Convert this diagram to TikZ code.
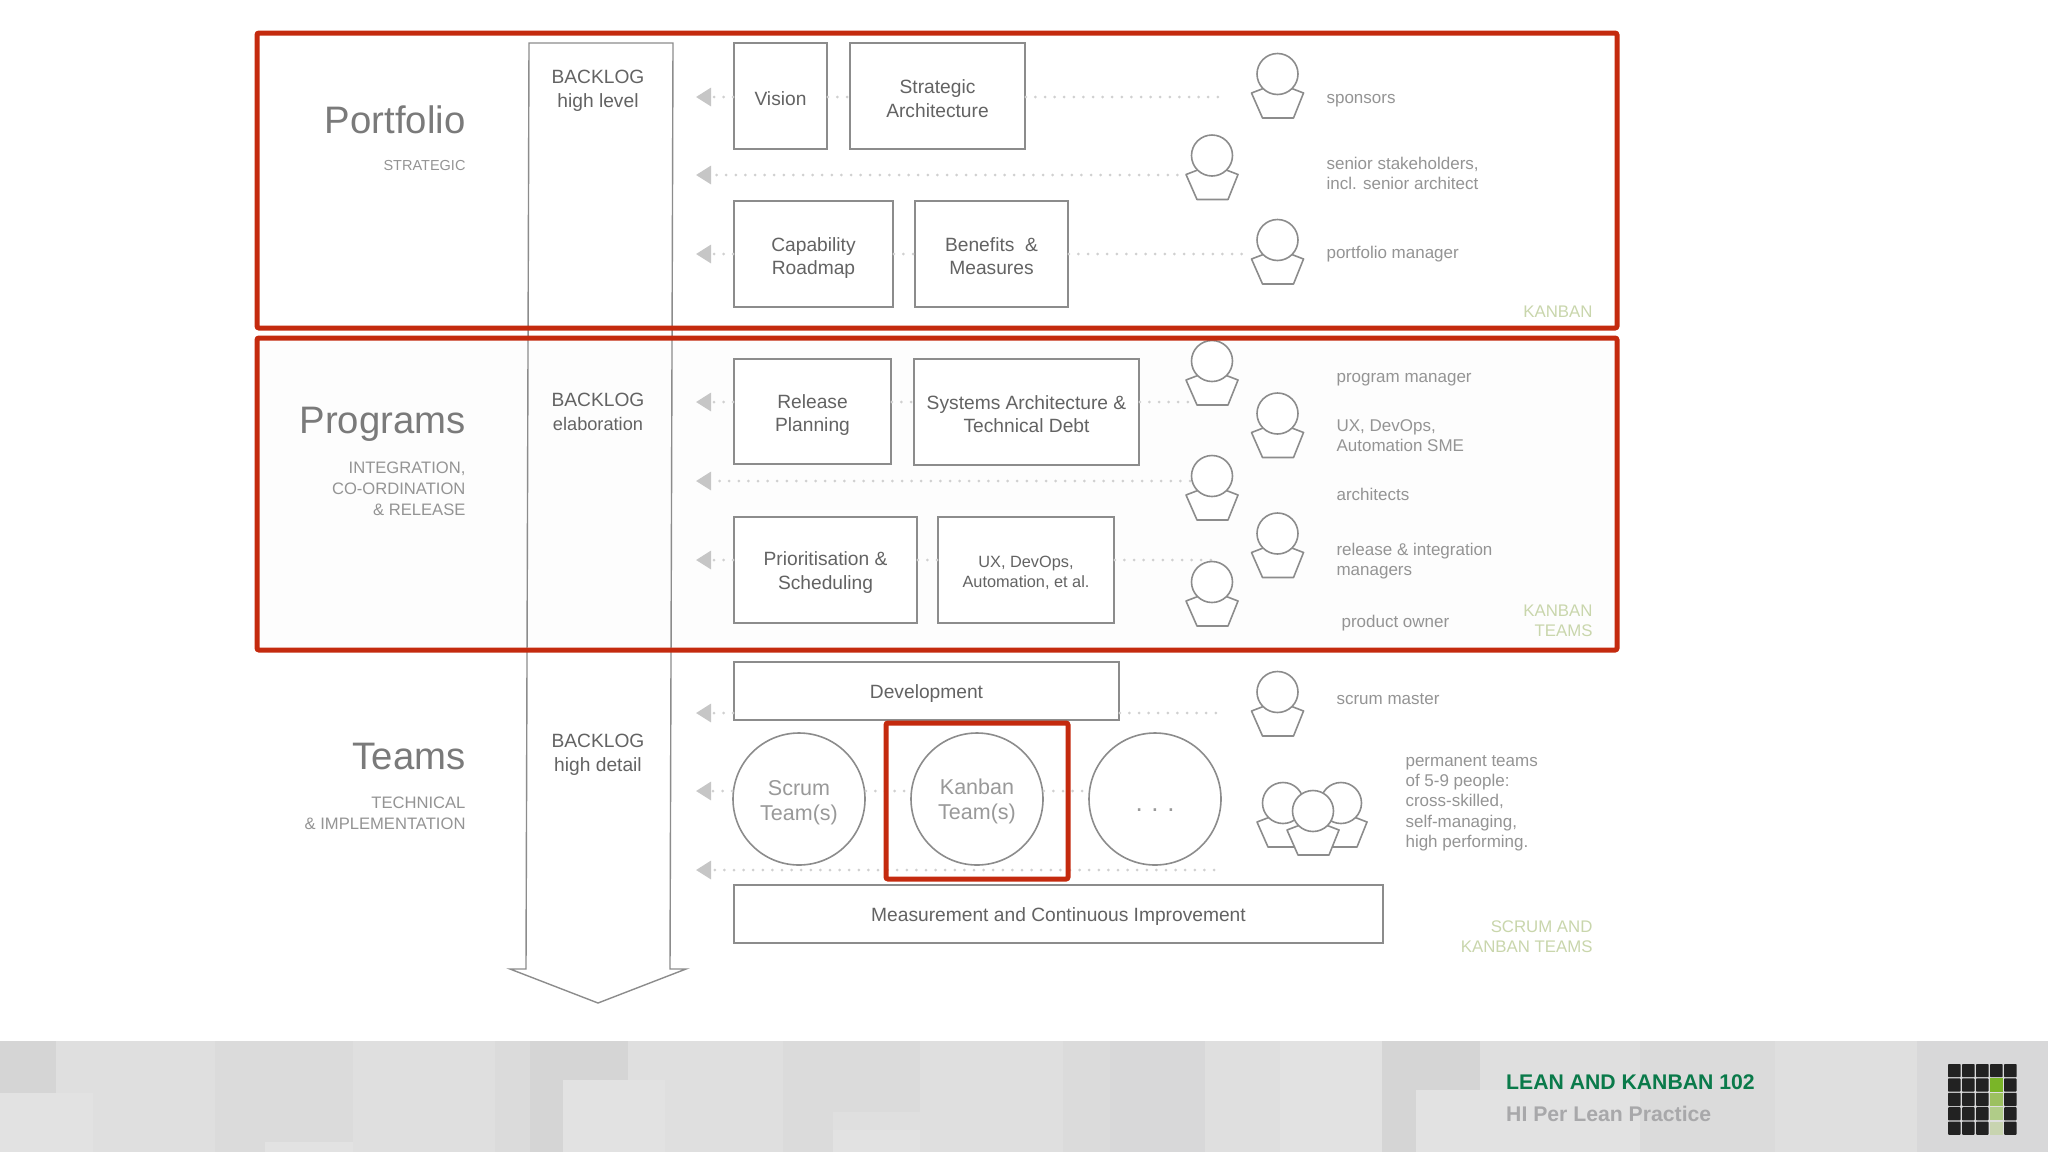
\documentclass[tikz,border=0pt]{standalone}
\usepackage{fontspec}
\setmainfont{Liberation Sans}
\usetikzlibrary{arrows.meta,calc}
\definecolor{redbox}{HTML}{C42A0E}
\definecolor{linegray}{HTML}{8C8C8C}
\definecolor{dotgray}{HTML}{D0D0D0}
\definecolor{tipgray}{HTML}{C6C6C6}
\definecolor{txtdark}{HTML}{636363}
\definecolor{txtmid}{HTML}{7A7A7A}
\definecolor{txtlight}{HTML}{949494}
\definecolor{teamtxt}{HTML}{999999}
\definecolor{kanban}{HTML}{C9D6AC}
\definecolor{footbase}{HTML}{DFDFDF}
\definecolor{fa}{HTML}{D5D5D5}
\definecolor{fb}{HTML}{DBDBDB}
\definecolor{fc}{HTML}{E2E2E2}
\definecolor{fd}{HTML}{D8D8D9}
\definecolor{leangreen}{HTML}{0A7A4A}
\definecolor{hiper}{HTML}{A8A8AA}
\definecolor{logoa}{HTML}{222222}
\definecolor{logob}{HTML}{7AB528}
\definecolor{logoc}{HTML}{9CC060}
\definecolor{logod}{HTML}{B0CC88}
\definecolor{logoe}{HTML}{C8D4B0}
\definecolor{progbg}{HTML}{FDFDFD}
\newcommand{\fs}[2]{\fontsize{#1}{#2}\selectfont}
\newcommand{\dn}[2][2.6pt]{\raisebox{-#1}[\height][\depth]{#2}}
\tikzset{
  x=1pt,y=-1pt,
  redframe/.style={draw=redbox,line width=5pt,rounded corners=2pt},
  boxn/.style={draw=linegray,line width=1.6pt,fill=white,align=center,text=txtdark,inner sep=0pt,font=\fs{19.2}{23.5}},
  teamn/.style={draw=linegray,line width=1.6pt,fill=white,circle,minimum size=132pt,inner sep=0pt,align=center,text=teamtxt,font=\fs{21.5}{25}},
  dotline/.style={draw=dotgray,line width=3pt,line cap=round,dash pattern=on 0pt off 9.6pt},
  tipped/.style={dotline,-{Triangle[length=15pt,width=18pt,color=tipgray]}},
  subcap/.style={align=right,anchor=east,text=txtlight,font=\fs{16.6}{21}},
  tiername/.style={anchor=east,text=txtmid,font=\fs{38.3}{42}},
  who/.style={align=left,anchor=west,text=txtlight,font=\fs{17}{20}},
  kb/.style={align=right,anchor=east,text=kanban,font=\fs{16.8}{20}},
  backlog/.style={align=center,text=txtdark,font=\fs{19.2}{23.5}},
  pers/.style={draw=linegray,line width=1.6pt,fill=white,line join=round},
}
\newcommand{\person}[3]{%
  \coordinate (#1) at (#2,#3);
  \draw[pers] ($(#1)+(0,9)$) -- ($(#1)+(26,19)$) -- ($(#1)+(16,44)$) -- ($(#1)+(-15,44)$) -- ($(#1)+(-26,19)$) -- cycle;
  \draw[pers] (#1) circle[radius=20.5pt];
}
\begin{document}
\begin{tikzpicture}
\useasboundingbox (0,0) rectangle (2048,1152);
\fill[white] (0,0) rectangle (2048,1152);
\fill[footbase] (0,1041) rectangle (2048,1152);
\fill[fa] (0,1041) rectangle (56,1093);
\fill[fc] (0,1093) rectangle (93,1152);
\fill[fb] (215,1041) rectangle (353,1152);
\fill[fc] (265,1142) rectangle (353,1152);
\fill[fb] (495,1041) rectangle (530,1152);
\fill[fa] (530,1041) rectangle (628,1080);
\fill[fa] (530,1080) rectangle (563,1152);
\fill[fc] (563,1080) rectangle (665,1152);
\fill[fb] (783,1041) rectangle (920,1112);
\fill[fb] (783,1112) rectangle (833,1152);
\fill[fc] (833,1130) rectangle (920,1152);
\fill[fb] (1063,1041) rectangle (1110,1152);
\fill[fd] (1110,1041) rectangle (1205,1152);
\fill[fc] (1280,1041) rectangle (1382,1152);
\fill[fa] (1382,1041) rectangle (1480,1090);
\fill[fa] (1382,1090) rectangle (1416,1152);
\fill[fc] (1416,1090) rectangle (1640,1152);
\fill[fb] (1640,1041) rectangle (1775,1152);
\fill[fd] (1917,1041) rectangle (2048,1152);

\fill[progbg] (257,338) rectangle (1617,650);

\draw[linegray,line width=1.4pt] (529,43) -- (673,43) -- (670,969) -- (686,969) -- (598,1003) -- (510,969) -- (526,969) -- cycle;

\node[backlog] (bl1) at (598,91) {BACKLOG\\high level};
\node[backlog] (bl2) at (598,412) {BACKLOG\\{\fs{18.2}{22}\selectfont elaboration}};
\node[backlog] (bl3) at (598,755) {BACKLOG\\[1pt]high detail};

\node[tiername] (tp) at (469,120) {Portfolio};
\node[subcap,font=\fs{14.5}{21}] (cp) at (469,166) {STRATEGIC};
\node[tiername] (tr) at (469,424) {Programs};
\node[subcap] (cr) at (469,489) {INTEGRATION,\\CO-ORDINATION\\\& RELEASE};
\node[tiername] (tt) at (469,756) {Teams};
\node[subcap] (ct) at (469,813) {TECHNICAL\\\& IMPLEMENTATION};

\coordinate (t1) at (696,97);
\coordinate (t2) at (696,175);
\coordinate (t3) at (696,254);
\coordinate (t4) at (696,402);
\coordinate (t5) at (696,481);
\coordinate (t6) at (696,560);
\coordinate (t7) at (696,713);
\coordinate (t8) at (696,791);
\coordinate (t9) at (696,870);

% free ends of dotted lines
\coordinate (e1) at (1219,97);
\coordinate (e2) at (1187,175);
\coordinate (e3) at (1250,254);
\coordinate (e4) at (1190,402);
\coordinate (e5) at (1190,481);
\coordinate (e6) at (1214,560);
\coordinate (e7) at (1217,713);
\coordinate (e9) at (1214,870);

\draw[tipped] (e2) -- (t2);
\draw[tipped] (e5) -- (t5);
\draw[tipped] (e9) -- (t9);

\node[boxn,minimum width=93pt,minimum height=106pt] (vision) at (780.5,96) {\dn{Vision}};
\node[boxn,minimum width=175pt,minimum height=106pt] (strat) at (937.5,96) {\dn{Strategic}\\\dn{Architecture}};
\node[boxn,minimum width=159pt,minimum height=106pt] (capab) at (813.5,254) {\dn[4.2pt]{Capability}\\\dn[4.2pt]{Roadmap}};
\node[boxn,minimum width=153pt,minimum height=106pt] (benef) at (991.5,254) {\dn[2.3pt]{Benefits\ \ \&}\\\dn[2.3pt]{Measures}};
\node[boxn,minimum width=157pt,minimum height=105pt] (release) at (812.5,411.5) {\dn[3.3pt]{Release}\\\dn[3.3pt]{Planning}};
\node[boxn,minimum width=225pt,minimum height=106pt] (systems) at (1026.5,412) {\dn[2pt]{Systems Architecture \&}\\\dn[2pt]{Technical Debt}};
\node[boxn,minimum width=183pt,minimum height=106pt] (prio) at (825.5,570) {\dn{Prioritisation \&}\\\dn{Scheduling}};
\node[boxn,minimum width=176pt,minimum height=106pt,font=\fs{16.3}{19.6}] (uxb) at (1026,570) {\dn{UX, DevOps,}\\\dn{Automation, et al.}};
\node[boxn,minimum width=385pt,minimum height=58pt] (dev) at (926.5,691) {\dn{Development}};
\node[boxn,minimum width=649pt,minimum height=58pt] (meas) at (1058.5,914) {\dn{Measurement and Continuous Improvement}};
\node[teamn] (scrum) at (799,799) {\dn[4pt]{Scrum}\\\dn[4pt]{Team(s)}};
\node[teamn] (kanb) at (977,799) {\dn{Kanban}\\\dn{Team(s)}};
\node[teamn,font=\fs{26}{26}] (more) at (1155,799) {\dn[11pt]{.\,\,.\,\,.}};

\draw[tipped] (vision.west |- t1) -- (t1);
\draw[dotline] (vision.east |- t1) -- (strat.west |- t1);
\draw[dotline] (strat.east |- t1) -- (e1);
\draw[tipped] (capab.west |- t3) -- (t3);
\draw[dotline] (capab.east |- t3) -- (benef.west |- t3);
\draw[dotline] (benef.east |- t3) -- (e3);
\draw[tipped] (release.west |- t4) -- (t4);
\draw[dotline] (release.east |- t4) -- (systems.west |- t4);
\draw[dotline] (systems.east |- t4) -- (e4);
\draw[tipped] (prio.west |- t6) -- (t6);
\draw[dotline] (prio.east |- t6) -- (uxb.west |- t6);
\draw[dotline] (uxb.east |- t6) -- (e6);
\draw[tipped] (dev.west |- t7) -- (t7);
\draw[dotline] (dev.east |- t7) -- (e7);
\draw[tipped] (scrum.west |- t8) -- (t8);
\draw[dotline] (scrum.east |- t8) -- (kanb.west |- t8);
\draw[dotline] (kanb.east |- t8) -- (more.west |- t8);

\person{p1}{1277.5}{74}
\person{p2}{1212}{155.5}
\person{p3}{1277.5}{240}
\person{p4}{1212}{361}
\person{p5}{1277.5}{413.5}
\person{p6}{1212}{476}
\person{p7}{1277.5}{533.5}
\person{p8}{1212}{582}
\person{p9}{1277.5}{692}
\person{p10}{1283}{803}
\person{p11}{1341}{803}
\person{p12}{1313}{811}

\node[who] (w1) at (1323,101) {sponsors};
\node[who] (w2) at (1323,173) {senior stakeholders,\\incl. senior architect};
\node[who] (w3) at (1323,254) {portfolio manager};
\node[who] (w4) at (1333,380) {program manager};
\node[who] (w5) at (1333,436) {UX, DevOps,\\Automation SME};
\node[who] (w6) at (1333,494) {architects};
\node[who] (w7) at (1333,561) {release \& integration\\managers};
\node[who] (w8) at (1338,623) {product owner};
\node[who] (w9) at (1333,699) {scrum master};
\node[who,font=\fs{17}{20.3}] (w10) at (1402,803) {permanent teams\\of 5-9 people:\\cross-skilled,\\self-managing,\\high performing.};

\node[kb] (k1) at (1596,312) {KANBAN};
\node[kb] (k2) at (1596,621) {KANBAN\\TEAMS};
\node[kb] (k3) at (1596,937) {SCRUM AND\\KANBAN TEAMS};

\draw[redframe] (257,33) rectangle (1617,328);
\draw[redframe] (257,338) rectangle (1617,650);
\draw[redframe] (886,723) rectangle (1068,879);

\node[anchor=west,text=leangreen,font=\bfseries\fs{21.2}{24},inner sep=0pt] (f1) at (1506,1082) {LEAN AND KANBAN 102};
\node[anchor=west,text=hiper,font=\bfseries\fs{21.2}{24},inner sep=0pt] (f2) at (1506,1114) {HI Per Lean Practice};

\foreach \r in {0,...,4} \foreach \c in {0,...,4} {
  \fill[logoa,rounded corners=0.8pt] (1948+\c*14,1064+\r*14.4) rectangle ++(12.6,13.2);
}
\fill[footbase] (1989,1078.4) rectangle ++(14.6,57);
\fill[logob] (1990,1078.4) rectangle ++(12.6,13.2);
\fill[logoc] (1990,1092.8) rectangle ++(12.6,13.2);
\fill[logod] (1990,1107.2) rectangle ++(12.6,13.2);
\fill[logoe] (1990,1121.6) rectangle ++(12.6,13.2);
\end{tikzpicture}
\end{document}
